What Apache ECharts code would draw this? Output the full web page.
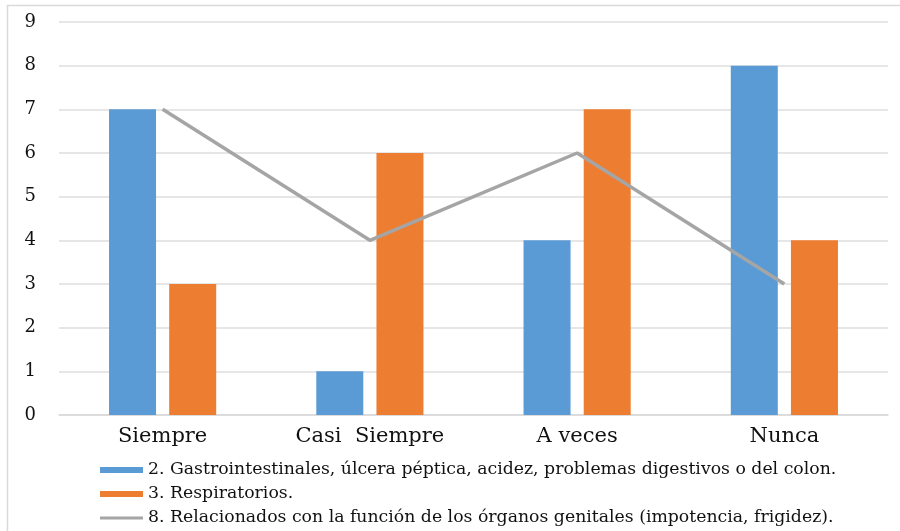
<!DOCTYPE html>
<html><head><meta charset="utf-8">
<script src="https://cdn.jsdelivr.net/npm/echarts@6/dist/echarts.min.js"></script>
<style>html,body{margin:0;padding:0;background:#fff}#c{width:900px;height:531px}</style>
</head><body><div id="c"></div>
<script>
const categories = ['Siempre', 'Casi  Siempre', 'A veces', 'Nunca'];
const seriesNames = [
  '2. Gastrointestinales, úlcera péptica, acidez, problemas digestivos o del colon.',
  '3. Respiratorios.',
  '8. Relacionados con la función de los órganos genitales (impotencia, frigidez).'
];
const gastro = [7, 1, 4, 8];
const respiratorios = [3, 6, 7, 4];
const genitales = [7, 4, 6, 3];
const yTicks = { min: 0, max: 9, interval: 1 };

const font = 'DejaVu Serif';
const legendText = { fontFamily: font, fontSize: 17.3, color: '#111', lineHeight: 18 };
function legendFor(name, top, h, color) {
  return {
    orient: 'vertical', left: 95, top: top,
    itemWidth: 43, itemHeight: h, itemGap: 7,
    textStyle: legendText,
    data: [{ name: name, icon: 'rect', itemStyle: { color: color } }]
  };
}
const chart = echarts.init(document.getElementById('c'), null, { renderer: 'canvas' });
chart.setOption({
  animation: false,
  backgroundColor: '#fff',
  graphic: [{
    type: 'rect', silent: true, z: -10,
    shape: { x: 7.5, y: 5.5, width: 1000, height: 1000 },
    style: { fill: 'none', stroke: '#d9d9d9', lineWidth: 1.5 }
  }],
  grid: { left: 59, right: 12, top: 22, bottom: 116, containLabel: false },
  xAxis: {
    type: 'category', data: categories,
    axisLine: { lineStyle: { color: '#d9d9d9', width: 1.5 } },
    axisTick: { show: false },
    axisLabel: { fontFamily: font, fontSize: 21, color: '#111', margin: 11 }
  },
  yAxis: {
    type: 'value', min: yTicks.min, max: yTicks.max, interval: yTicks.interval,
    axisLine: { show: false }, axisTick: { show: false },
    axisLabel: { fontFamily: font, fontSize: 18, color: '#111', margin: 23 },
    splitLine: { lineStyle: { color: '#dedede', width: 1.5 } }
  },
  legend: [
    legendFor(seriesNames[0], 456, 6, '#5B9BD5'),
    legendFor(seriesNames[1], 480, 6, '#ED7D31'),
    legendFor(seriesNames[2], 504, 3, '#A5A5A5')
  ],
  series: [
    { name: seriesNames[0], type: 'bar', data: gastro, barWidth: 47, barGap: '28%',
      itemStyle: { color: '#5B9BD5' } },
    { name: seriesNames[1], type: 'bar', data: respiratorios, barWidth: 47,
      itemStyle: { color: '#ED7D31' } },
    { name: seriesNames[2], type: 'line', data: genitales, showSymbol: false, symbol: 'none',
      lineStyle: { color: '#A5A5A5', width: 3.5 }, itemStyle: { color: '#A5A5A5' } }
  ]
});
</script></body></html>
